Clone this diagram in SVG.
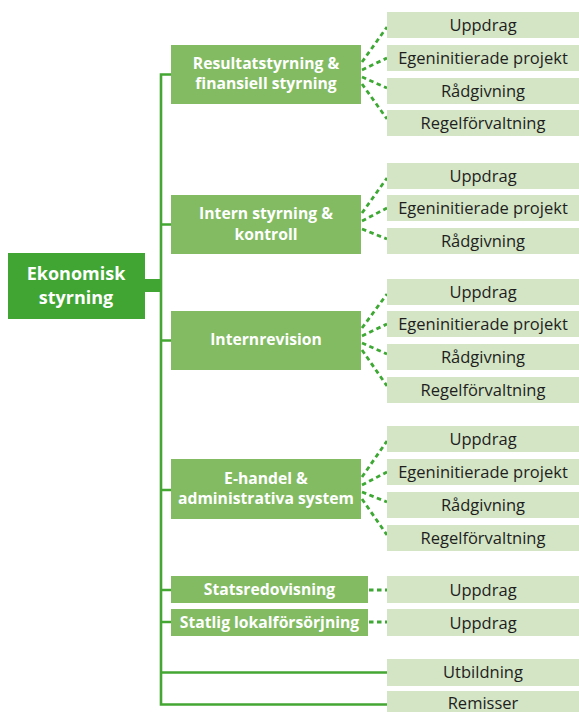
<svg xmlns="http://www.w3.org/2000/svg" width="579" height="712" viewBox="0 0 579 712">
<style>
.root{fill:#40a532}
.mid{fill:#82bb62}
.leaf{fill:#d3e5c4}
.tw{font-family:"Open Sans","Noto Sans",sans-serif;font-weight:bold;fill:#fff;text-anchor:middle;font-size:15.7px}
.tr{font-family:"Open Sans","Noto Sans",sans-serif;font-weight:bold;fill:#fff;text-anchor:middle;font-size:18px}
.tl{font-family:"Open Sans","Noto Sans",sans-serif;fill:#1e1e1e;text-anchor:middle;font-size:16.5px}
.solid{stroke:#44a733;stroke-width:2.6;fill:none}
.dot{stroke:#3da833;stroke-width:2.8;fill:none;stroke-dasharray:4.5 3.5}
</style>
<g id="connectors">
<rect x="144" y="279" width="17" height="13" fill="#40a532"/>
<path class="solid" d="M171 74.5H161V704.5H387M161 224.5H171M161 340.5H171M161 490H171M161 590H171M161 622H171M161 672.5H387"/>
<path class="dot" d="M362 62L387 27M362 70L387 58M362 77L387 88M362 84L387 119"/>
<path class="dot" d="M362 213L387 178M362 221L387 208M362 229L387 239"/>
<path class="dot" d="M362 328L387 294M362 336L387 324M362 343L387 354M362 350L387 386"/>
<path class="dot" d="M362 477L387 441M362 485L387 472M362 492L387 502M362 499L387 535"/>
<path class="dot" d="M369 590H387M369 622H387"/>
</g>
<g id="root"><rect class="root" x="8" y="253" width="137" height="66"/><text class="tr" x="76" y="280">Ekonomisk</text><text class="tr" x="76" y="304">styrning</text></g>
<g id="b1"><rect class="mid" x="171" y="45" width="190" height="59"/><text class="tw" x="266" y="69">Resultatstyrning &amp;</text><text class="tw" x="266" y="89">finansiell styrning</text></g>
<g id="b2"><rect class="mid" x="171" y="195" width="190" height="59"/><text class="tw" x="266" y="219">Intern styrning &amp;</text><text class="tw" x="266" y="240">kontroll</text></g>
<g id="b3"><rect class="mid" x="171" y="311" width="190" height="59"/><text class="tw" x="266" y="345">Internrevision</text></g>
<g id="b4"><rect class="mid" x="171" y="459" width="190" height="60"/><text class="tw" x="266" y="484">E-handel &amp;</text><text class="tw" x="266" y="504">administrativa system</text></g>
<g id="b5"><rect class="mid" x="171" y="576" width="197" height="27"/><text class="tw" x="269.5" y="595">Statsredovisning</text></g>
<g id="b6"><rect class="mid" x="171" y="609" width="197" height="27"/><text class="tw" x="269.5" y="628">Statlig lokalförsörjning</text></g>
<g id="l1a"><rect class="leaf" x="387" y="12" width="192" height="26"/><text class="tl" x="483" y="31">Uppdrag</text></g>
<g id="l1b"><rect class="leaf" x="387" y="45" width="192" height="26"/><text class="tl" x="483" y="64">Egeninitierade projekt</text></g>
<g id="l1c"><rect class="leaf" x="387" y="78" width="192" height="26"/><text class="tl" x="483" y="97">Rådgivning</text></g>
<g id="l1d"><rect class="leaf" x="387" y="110" width="192" height="26"/><text class="tl" x="483" y="129">Regelförvaltning</text></g>
<g id="l2a"><rect class="leaf" x="387" y="163" width="192" height="26"/><text class="tl" x="483" y="182">Uppdrag</text></g>
<g id="l2b"><rect class="leaf" x="387" y="195" width="192" height="26"/><text class="tl" x="483" y="214">Egeninitierade projekt</text></g>
<g id="l2c"><rect class="leaf" x="387" y="228" width="192" height="26"/><text class="tl" x="483" y="247">Rådgivning</text></g>
<g id="l3a"><rect class="leaf" x="387" y="279" width="192" height="26"/><text class="tl" x="483" y="298">Uppdrag</text></g>
<g id="l3b"><rect class="leaf" x="387" y="311" width="192" height="26"/><text class="tl" x="483" y="330">Egeninitierade projekt</text></g>
<g id="l3c"><rect class="leaf" x="387" y="344" width="192" height="26"/><text class="tl" x="483" y="363">Rådgivning</text></g>
<g id="l3d"><rect class="leaf" x="387" y="377" width="192" height="26"/><text class="tl" x="483" y="396">Regelförvaltning</text></g>
<g id="l4a"><rect class="leaf" x="387" y="426" width="192" height="26"/><text class="tl" x="483" y="445">Uppdrag</text></g>
<g id="l4b"><rect class="leaf" x="387" y="459" width="192" height="26"/><text class="tl" x="483" y="478">Egeninitierade projekt</text></g>
<g id="l4c"><rect class="leaf" x="387" y="492" width="192" height="26"/><text class="tl" x="483" y="511">Rådgivning</text></g>
<g id="l4d"><rect class="leaf" x="387" y="525" width="192" height="26"/><text class="tl" x="483" y="544">Regelförvaltning</text></g>
<g id="l5"><rect class="leaf" x="387" y="576" width="192" height="27"/><text class="tl" x="483" y="595.5">Uppdrag</text></g>
<g id="l6"><rect class="leaf" x="387" y="609" width="192" height="27"/><text class="tl" x="483" y="628.5">Uppdrag</text></g>
<g id="l7"><rect class="leaf" x="387" y="659" width="192" height="27"/><text class="tl" x="483" y="678">Utbildning</text></g>
<g id="l8"><rect class="leaf" x="387" y="691" width="192" height="21"/><text class="tl" x="483" y="708.5">Remisser</text></g>
</svg>
